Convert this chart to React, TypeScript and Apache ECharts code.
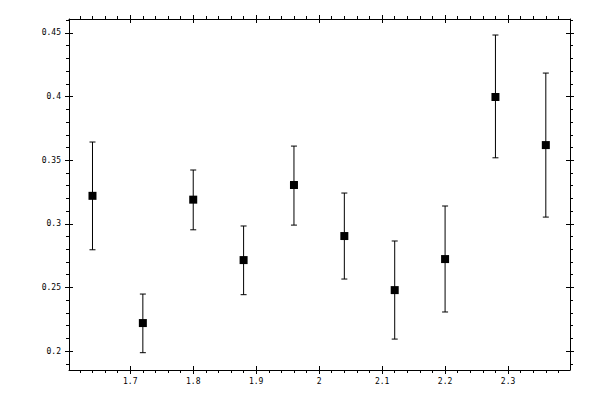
import React, { useEffect, useRef } from "react";
import * as echarts from "echarts";

// Data points (x, y) with lower / upper error-bar limits
const xValues = [1.64, 1.72, 1.8, 1.88, 1.96, 2.04, 2.12, 2.2, 2.28, 2.36];
const yValues = [0.322, 0.222, 0.319, 0.2715, 0.3305, 0.2904, 0.2479, 0.2723, 0.3997, 0.3619];
const yLow = [0.2796, 0.1987, 0.2953, 0.2443, 0.299, 0.2566, 0.2094, 0.2307, 0.3519, 0.3053];
const yHigh = [0.3643, 0.2448, 0.3423, 0.2983, 0.3611, 0.3242, 0.2865, 0.314, 0.4484, 0.4185];

// Tick values
const xMajorTicks = [1.7, 1.8, 1.9, 2, 2.1, 2.2, 2.3];
const xMinorTicks = [
  1.62, 1.64, 1.66, 1.68, 1.72, 1.74, 1.76, 1.78, 1.82, 1.84, 1.86, 1.88,
  1.92, 1.94, 1.96, 1.98, 2.02, 2.04, 2.06, 2.08, 2.12, 2.14, 2.16, 2.18,
  2.22, 2.24, 2.26, 2.28, 2.32, 2.34, 2.36, 2.38,
];
const yMajorTicks = [0.2, 0.25, 0.3, 0.35, 0.4, 0.45];
const yMinorTicks = [
  0.19, 0.21, 0.22, 0.23, 0.24, 0.26, 0.27, 0.28, 0.29, 0.31, 0.32, 0.33, 0.34,
  0.36, 0.37, 0.38, 0.39, 0.41, 0.42, 0.43, 0.44, 0.46,
];

// Axis extents
const X_MIN = 1.6027;
const X_MAX = 2.3984;
const Y_MIN = 0.1851;
const Y_MAX = 0.461;

const FONT = "DejaVu Sans Mono";

function makeAxis(
  dim: "x" | "y",
  position: string,
  ticks: number[],
  tickLen: number,
  inside: boolean,
  showLine: boolean,
  labels: number[] | null
) {
  return {
    type: "value",
    position,
    min: dim === "x" ? X_MIN : Y_MIN,
    max: dim === "x" ? X_MAX : Y_MAX,
    splitLine: { show: false },
    axisLine: {
      show: showLine,
      onZero: false,
      lineStyle: { color: "#000", width: 1 },
    },
    axisTick: {
      show: true,
      inside,
      length: tickLen,
      customValues: ticks,
      lineStyle: { color: "#000", width: 1 },
    },
    axisLabel: labels
      ? {
          show: true,
          customValues: labels,
          margin: dim === "x" ? 7 : 8,
          color: "#000",
          fontFamily: FONT,
          fontSize: 8,
        }
      : { show: false },
  };
}

export default function App() {
  const ref = useRef<HTMLDivElement>(null);

  useEffect(() => {
    if (!ref.current) return;
    const chart = echarts.init(ref.current, null, { renderer: "svg" });

    const errData = xValues.map((x, i) => [x, yLow[i], yHigh[i]]);
    const ptData = xValues.map((x, i) => [x, yValues[i]]);

    chart.setOption({
      animation: false,
      backgroundColor: "#fff",
      grid: { left: 69, right: 30, top: 19, bottom: 30, containLabel: false },
      xAxis: [
        makeAxis("x", "bottom", xMajorTicks, 4, false, true, xMajorTicks),
        makeAxis("x", "bottom", xMajorTicks, 4, true, false, null),
        makeAxis("x", "bottom", xMinorTicks, 3, false, false, null),
        makeAxis("x", "top", xMajorTicks, 4, false, true, null),
        makeAxis("x", "top", xMajorTicks, 4, true, false, null),
        makeAxis("x", "top", xMinorTicks, 3, false, false, null),
      ],
      yAxis: [
        makeAxis("y", "left", yMajorTicks, 4, false, true, yMajorTicks),
        makeAxis("y", "left", yMajorTicks, 4, true, false, null),
        makeAxis("y", "left", yMinorTicks, 3, false, false, null),
        makeAxis("y", "right", yMajorTicks, 4, false, true, null),
        makeAxis("y", "right", yMajorTicks, 4, true, false, null),
        makeAxis("y", "right", yMinorTicks, 3, false, false, null),
      ],
      series: [
        {
          type: "custom",
          xAxisIndex: 0,
          yAxisIndex: 0,
          data: errData,
          encode: { x: 0, y: [1, 2] },
          z: 2,
          renderItem: (params: any, api: any) => {
            const x = api.value(0);
            const pLo = api.coord([x, api.value(1)]);
            const pHi = api.coord([x, api.value(2)]);
            const cap = 3;
            const style = { stroke: "#000", lineWidth: 1 };
            return {
              type: "group",
              children: [
                { type: "line", shape: { x1: pLo[0], y1: pLo[1], x2: pHi[0], y2: pHi[1] }, style },
                { type: "line", shape: { x1: pLo[0] - cap, y1: pLo[1], x2: pLo[0] + cap, y2: pLo[1] }, style },
                { type: "line", shape: { x1: pHi[0] - cap, y1: pHi[1], x2: pHi[0] + cap, y2: pHi[1] }, style },
              ],
            };
          },
        },
        {
          type: "scatter",
          xAxisIndex: 0,
          yAxisIndex: 0,
          data: ptData,
          symbol: "rect",
          symbolSize: 8,
          itemStyle: { color: "#000", opacity: 1 },
          z: 3,
        },
      ],
    });

    return () => chart.dispose();
  }, []);

  return (
    <div
      ref={ref}
      style={{ position: "fixed", left: 0, top: 0, width: 600, height: 400 }}
    />
  );
}
